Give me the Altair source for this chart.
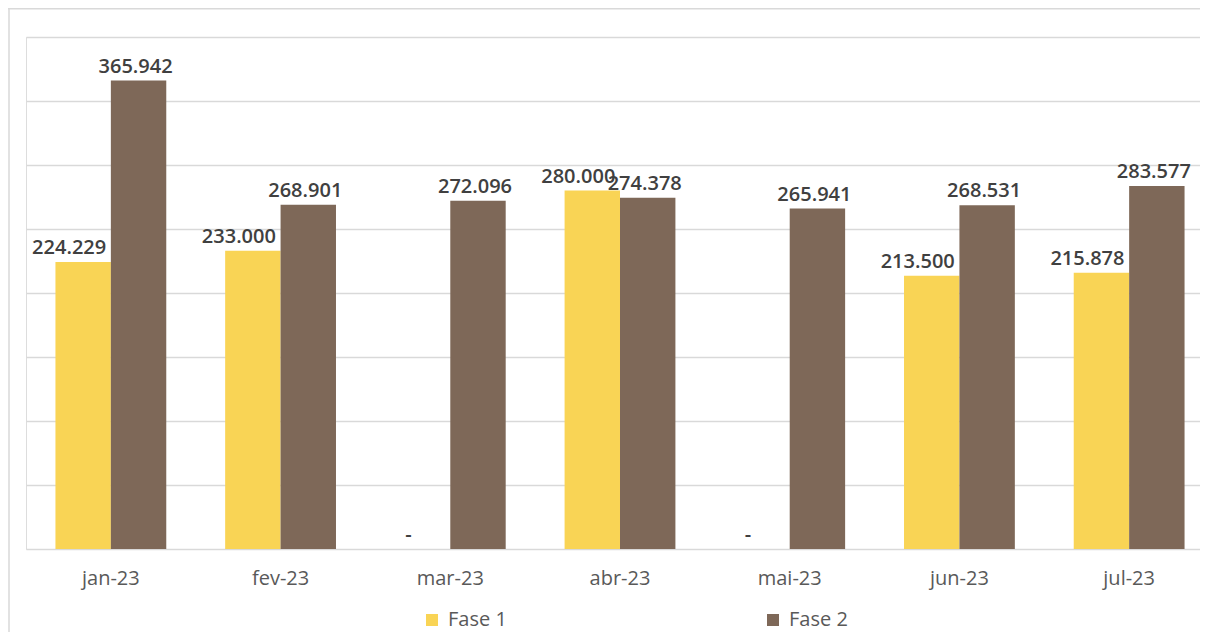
import altair as alt
import pandas as pd

months = ["jan-23", "fev-23", "mar-23", "abr-23", "mai-23", "jun-23", "jul-23"]
series = ["Fase 1", "Fase 2"]
fase1 = [224.229, 233.000, 0, 280.000, 0, 213.500, 215.878]
fase2 = [365.942, 268.901, 272.096, 274.378, 265.941, 268.531, 283.577]
colors = ["#F9D455", "#7E6858"]
grid_values = [0, 50, 100, 150, 200, 250, 300, 350, 400]

rows = []
for m, a, b in zip(months, fase1, fase2):
    rows.append({"month": m, "series": "Fase 1", "value": a})
    rows.append({"month": m, "series": "Fase 2", "value": b})
df = pd.DataFrame(rows)

FONT = "Open Sans"

x = alt.X(
    "month:N", sort=months,
    scale=alt.Scale(range=[0, 1188], paddingInner=0.347, paddingOuter=0.1735),
    axis=alt.Axis(title=None, labelAngle=0, ticks=False, domain=False, grid=False,
                  labelFontSize=20, labelColor="#595959", labelFont=FONT, labelPadding=19),
)
xo = alt.XOffset("series:N", sort=series, scale=alt.Scale(paddingInner=0, paddingOuter=0))
y = alt.Y(
    "value:Q", scale=alt.Scale(domain=[0, 400], nice=False),
    axis=alt.Axis(title=None, labels=False, ticks=False, domain=False, values=grid_values,
                  gridColor="#D9D9D9", gridWidth=1.5),
)

base = alt.Chart(df)

bars = base.mark_bar().encode(
    x=x, xOffset=xo, y=y,
    color=alt.Color(
        "series:N", sort=series,
        scale=alt.Scale(domain=series, range=colors),
        legend=alt.Legend(
            orient="none", legendX=396, legendY=573, direction="horizontal", title=None,
            symbolType="square", symbolSize=144, symbolStrokeWidth=0,
            labelFontSize=20, labelColor="#595959", labelFont=FONT,
            labelOffset=6, columnPadding=256,
        ),
    ),
)

label_expr = "datum.value == 0 ? '-' : format(datum.value, '.3f')"

lab1 = base.transform_filter("datum.series == 'Fase 1'").transform_calculate(
    label=label_expr
).mark_text(dx=-14, dy=-4, baseline="bottom", fontSize=20, fontWeight=600,
            font=FONT, color="#404040").encode(x=x, xOffset=xo, y=y, text="label:N")

lab2 = base.transform_filter("datum.series == 'Fase 2'").transform_calculate(
    label=label_expr
).mark_text(dx=-3, dy=-4, baseline="bottom", fontSize=20, fontWeight=600,
            font=FONT, color="#404040").encode(x=x, xOffset=xo, y=y, text="label:N")

frame_src = alt.Chart(alt.Data(values=[{"a": 1}]))
frame_left = frame_src.mark_rule(color="#D9D9D9", strokeWidth=1.5, clip=False).encode(
    x=alt.value(-17), y=alt.value(-29), y2=alt.value(700)
)
frame_top = frame_src.mark_rule(color="#D9D9D9", strokeWidth=1.5, clip=False).encode(
    x=alt.value(-18), x2=alt.value(1300), y=alt.value(-28.25)
)

chart = alt.layer(frame_left, frame_top, bars, lab1, lab2).properties(
    width=1174, height=512,
    autosize=alt.AutoSizeParams(type="none"),
    padding={"left": 18, "top": 29, "right": 0, "bottom": 83},
).configure_view(stroke=None).configure(background="white")

chart.save("out.html", embed_options={"renderer": "svg", "actions": False})
